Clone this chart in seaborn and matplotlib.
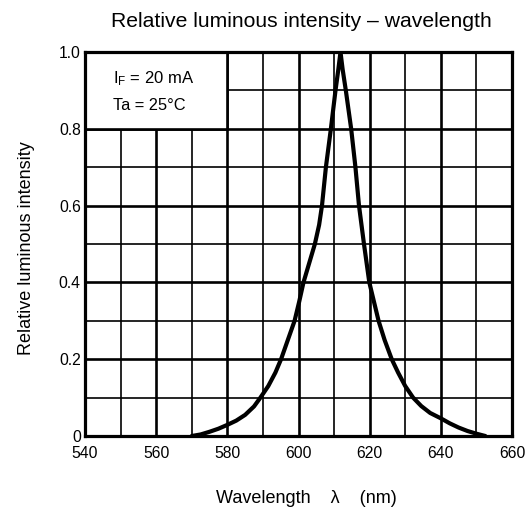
import numpy as np
import pandas as pd
import matplotlib
matplotlib.use("Agg")
import matplotlib.pyplot as plt
from matplotlib.patches import Rectangle
from matplotlib.ticker import MultipleLocator
import seaborn as sns

# curve
wavelength = [570, 572.5, 575, 577.5, 580, 582.5, 585, 587.5, 589.3, 591.5, 593.5, 595.1,
              597, 598.9, 600.2, 601.4, 603, 604.6, 605.8, 606.6, 607.7, 609.1, 610.4,
              611.2, 611.8, 612.4, 613.3, 614.8, 616.0, 617.0, 618.4, 619.9, 621.2,
              622.5, 624.2, 626.2, 628, 630, 632.2, 634.5, 637, 640, 642.5, 645,
              647.5, 650, 652.5]
intensity = [0, 0.004, 0.011, 0.019, 0.029, 0.040, 0.055, 0.077, 0.10, 0.13, 0.165, 0.20,
             0.25, 0.30, 0.35, 0.40, 0.45, 0.50, 0.55, 0.60, 0.70, 0.80, 0.90,
             0.955, 1.0, 0.955, 0.90, 0.80, 0.70, 0.60, 0.50, 0.40, 0.35,
             0.30, 0.25, 0.20, 0.165, 0.13, 0.10, 0.078, 0.06, 0.046, 0.033, 0.022,
             0.013, 0.006, 0]
x_ticks = [540, 560, 580, 600, 620, 640, 660]
y_ticks = [0, 0.2, 0.4, 0.6, 0.8, 1.0]
y_tick_labels = ["0", "0.2", "0.4", "0.6", "0.8", "1.0"]

title = "Relative luminous intensity \u2013 wavelength"
x_label = "Wavelength    \u03bb    (nm)"
y_label = "Relative luminous intensity"
cond_lines = ["I$_\\mathrm{F}$ = 20 mA", "Ta = 25\u00b0C"]

sns.set_theme(style="white")
plt.rcParams['font.family'] = ['Liberation Sans', 'DejaVu Sans']
plt.rcParams['mathtext.fontset'] = 'custom'
plt.rcParams['mathtext.rm'] = 'Liberation Sans'
plt.rcParams['mathtext.it'] = 'Liberation Sans'

df = pd.DataFrame({'wl': wavelength, 'rel': intensity})

fig = plt.figure(figsize=(5.31, 5.13), dpi=100)
ax = fig.add_axes([85 / 531, 1 - 436 / 513, 427 / 531, 384 / 513])

ax.set_xlim(540, 660)
ax.set_ylim(0, 1.0)
ax.xaxis.set_minor_locator(MultipleLocator(10))
ax.yaxis.set_minor_locator(MultipleLocator(0.1))
ax.set_xticks(x_ticks)
ax.set_yticks(y_ticks)
ax.set_yticklabels(y_tick_labels)

ax.set_axisbelow(True)
ax.grid(which='major', color='black', linewidth=1.9)
ax.grid(which='minor', color='black', linewidth=1.2)

# blank box behind the test conditions
ax.add_patch(Rectangle((540, 0.8), 40, 0.2, facecolor='white', edgecolor='black',
                       linewidth=1.9, zorder=1))

sns.lineplot(data=df, x='wl', y='rel', ax=ax, color='black', linewidth=3.0,
             solid_capstyle='round', solid_joinstyle='round', zorder=3)

for s in ax.spines.values():
    s.set_color('black')
    s.set_linewidth(2.3)
    s.set_zorder(4)

ax.tick_params(which='both', length=0)
ax.tick_params(axis='x', pad=7, labelsize=11.3, colors='black')
ax.tick_params(axis='y', pad=3, labelsize=11.3, colors='black')

ax.set_xlabel(x_label, fontsize=13, color='black')
ax.set_ylabel(y_label, fontsize=13, color='black')
ax.xaxis.set_label_coords(0.518, -0.141)
ax.yaxis.set_label_coords(-0.117, 0.49)

ax.text(547.8, 0.919, cond_lines[0], fontsize=12, color='black', va='baseline', zorder=5)
ax.text(547.8, 0.849, cond_lines[1], fontsize=11.8, color='black', va='baseline', zorder=5)

fig.text(301 / 531, 1 - 26.7 / 513, title, fontsize=15.2, ha='center', va='baseline',
         color='black')

fig.savefig('out.png', dpi=100, facecolor='white')
